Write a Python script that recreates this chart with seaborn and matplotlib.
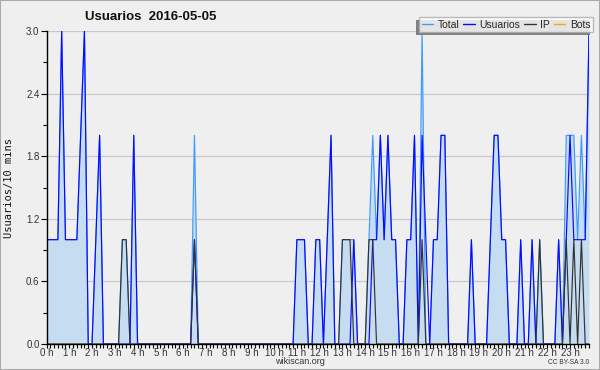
import numpy as np
import pandas as pd
import matplotlib
matplotlib.use("Agg")
import matplotlib.pyplot as plt
import seaborn as sns
from matplotlib.patches import Rectangle
from matplotlib.ticker import FixedLocator

title = "Usuarios  2016-05-05"
ylabel = "Usuarios/10 mins"
series_names = ["Total", "Usuarios", "IP", "Bots"]
series_colors = ["#3d9bff", "#0a0aff", "#333333", "#ffa31a"]
hour_labels = [f"{h} h" for h in range(24)]
yticks = [0.0, 0.6, 1.2, 1.8, 2.4, 3.0]
footer_center = "wikiscan.org"
footer_right = "CC BY-SA 3.0"

# one value per 10-minute slot (144 slots)
usuarios = [
    1, 1, 1, 1, 3, 1, 1, 1, 1, 2, 3, 0, 0, 1, 2, 0,
    0, 0, 0, 0, 0, 0, 0, 2, 0, 0, 0, 0, 0, 0, 0, 0,
    0, 0, 0, 0, 0, 0, 0, 1, 0, 0, 0, 0, 0, 0, 0, 0,
    0, 0, 0, 0, 0, 0, 0, 0, 0, 0, 0, 0, 0, 0, 0, 0,
    0, 0, 1, 1, 1, 0, 0, 1, 1, 0, 1, 2, 0, 0, 0, 0,
    0, 1, 0, 0, 0, 0, 1, 1, 2, 1, 2, 1, 1, 0, 0, 1,
    1, 2, 0, 2, 1, 0, 1, 1, 2, 2, 0, 0, 0, 0, 0, 0,
    1, 0, 0, 0, 0, 1, 2, 2, 1, 1, 0, 0, 0, 1, 0, 0,
    1, 0, 0, 0, 0, 0, 0, 1, 0, 1, 2, 1, 1, 1, 1, 3,
]
ip = [
    0, 0, 0, 0, 0, 0, 0, 0, 0, 0, 0, 0, 0, 0, 0, 0,
    0, 0, 0, 0, 1, 1, 0, 0, 0, 0, 0, 0, 0, 0, 0, 0,
    0, 0, 0, 0, 0, 0, 0, 1, 0, 0, 0, 0, 0, 0, 0, 0,
    0, 0, 0, 0, 0, 0, 0, 0, 0, 0, 0, 0, 0, 0, 0, 0,
    0, 0, 0, 0, 0, 0, 0, 0, 0, 0, 0, 0, 0, 0, 1, 1,
    1, 0, 0, 0, 0, 1, 1, 0, 0, 0, 0, 0, 0, 0, 0, 0,
    0, 0, 0, 1, 0, 0, 0, 0, 0, 0, 0, 0, 0, 0, 0, 0,
    0, 0, 0, 0, 0, 0, 0, 0, 0, 0, 0, 0, 0, 0, 0, 0,
    0, 0, 1, 0, 0, 0, 0, 0, 0, 1, 0, 1, 0, 1, 0, 0,
]
total = [
    1, 1, 1, 1, 3, 1, 1, 1, 1, 2, 3, 0, 0, 1, 2, 0,
    0, 0, 0, 0, 1, 1, 0, 2, 0, 0, 0, 0, 0, 0, 0, 0,
    0, 0, 0, 0, 0, 0, 0, 2, 0, 0, 0, 0, 0, 0, 0, 0,
    0, 0, 0, 0, 0, 0, 0, 0, 0, 0, 0, 0, 0, 0, 0, 0,
    0, 0, 1, 1, 1, 0, 0, 1, 1, 0, 1, 2, 0, 0, 1, 1,
    1, 1, 0, 0, 0, 1, 2, 1, 2, 1, 2, 1, 1, 0, 0, 1,
    1, 2, 0, 3, 0, 0, 1, 1, 2, 2, 0, 0, 0, 0, 0, 0,
    1, 0, 0, 0, 0, 1, 2, 2, 1, 1, 0, 0, 0, 1, 0, 0,
    1, 0, 1, 0, 0, 0, 0, 1, 0, 2, 2, 2, 1, 2, 1, 3,
]
bots = [0] * 144

slot_minutes = [10 * k for k in range(144)]

df = pd.DataFrame({
    "hour": np.array(slot_minutes) / 60.0,
    "Total": total, "Usuarios": usuarios, "IP": ip, "Bots": bots,
})

sns.set_theme(style="white")
plt.rcParams["font.family"] = ["Liberation Sans", "DejaVu Sans"]

bg = "#efeff0"
fig = plt.figure(figsize=(6.0, 3.7), dpi=100, facecolor=bg)
ax = fig.add_axes([46.5 / 600, 26 / 370, (589 - 46.5) / 600, (344 - 31) / 370])
ax.set_facecolor(bg)

ax.fill_between(df["hour"], df["Total"], 0, color="#c6dcf0", lw=0, zorder=1)
for name, col in zip(series_names, series_colors):
    sns.lineplot(data=df, x="hour", y=name, ax=ax, color=col, lw=0.85,
                 label=name, zorder=2)

ax.set_xlim(0, slot_minutes[-1] / 60.0)
ax.set_ylim(0, 3.0)
ax.yaxis.set_major_locator(FixedLocator(yticks))
ax.yaxis.set_minor_locator(FixedLocator([0.3, 0.9, 1.5, 2.1, 2.7]))
ax.set_yticklabels([f"{v:.1f}" for v in yticks])
ax.xaxis.set_major_locator(FixedLocator(list(range(24))))
ax.set_xticklabels(hour_labels)
ax.xaxis.set_minor_locator(FixedLocator([m / 60.0 for m in range(0, 1440, 10)]))

ax.tick_params(axis="both", which="major", direction="out", length=4, width=0.8,
               color="black", labelsize=7, pad=1, labelcolor="#333333")
ax.tick_params(axis="both", which="minor", direction="out", length=3, width=0.8,
               color="black")
ax.tick_params(axis="x", which="major", length=3, pad=0)
ax.tick_params(left=True, bottom=True, which="both")

ax.grid(axis="y", which="major", color="#c8c8c8", lw=0.9)
ax.set_axisbelow(True)
for s in ["top", "right"]:
    ax.spines[s].set_visible(False)
for s in ["left", "bottom"]:
    ax.spines[s].set_color("black")
    ax.spines[s].set_linewidth(1.0)
    ax.spines[s].set_zorder(5)

ax.set_xlabel("")
ax.set_ylabel(ylabel, fontsize=7.5, family="DejaVu Sans Mono", labelpad=9,
              color="#111111")

fig.text(85 / 600, 1 - 17 / 370, title, fontsize=9.5, fontweight="bold",
         ha="left", va="center", color="#111111")

leg = ax.legend(loc="upper right", bbox_to_anchor=(593 / 600, 1 - 17 / 370),
                bbox_transform=fig.transFigure, ncol=4, frameon=True,
                fancybox=False, shadow=False, fontsize=7.5, handlelength=1.1,
                handletextpad=0.45, columnspacing=0.35, borderpad=0.25,
                borderaxespad=0)
leg.get_frame().set_facecolor("white")
leg.get_frame().set_edgecolor("#aaaaaa")
leg.get_frame().set_linewidth(1.0)
leg.set_zorder(10)
for line in leg.get_lines():
    line.set_linewidth(1.0)

fig.canvas.draw()
bb = leg.get_window_extent().transformed(fig.transFigure.inverted())
ax.add_patch(Rectangle((bb.x0 - 3 / 600, bb.y0 - 3 / 370), bb.width, bb.height,
                       transform=fig.transFigure, facecolor="#808080",
                       edgecolor="none", zorder=9, clip_on=False))

fig.text(300 / 600, 1 - 362 / 370, footer_center, fontsize=6.5, ha="center",
         va="center", color="#333333")
fig.text(589 / 600, 1 - 362 / 370, footer_right, fontsize=4.8, ha="right",
         va="center", color="#333333")
fig.patches.append(Rectangle((0, 0), 1, 1, transform=fig.transFigure, fill=False,
                             edgecolor="#aaaaaa", lw=1.5, zorder=20))

fig.savefig("out.png", dpi=100, facecolor=bg)
